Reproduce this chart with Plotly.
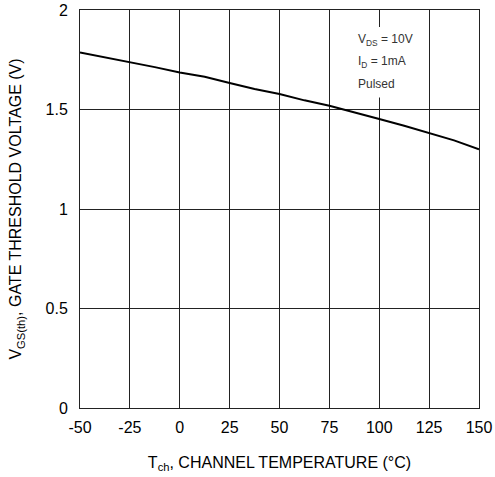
import plotly.graph_objects as go

temp_c = [-50, -37.5, -25, -12.5, 0, 12.5, 25, 37.5, 50, 62.5, 75, 87.5, 100, 112.5, 125, 137.5, 150]
vth_v = [1.787, 1.763, 1.740, 1.713, 1.686, 1.665, 1.633, 1.603, 1.578, 1.546, 1.519, 1.487, 1.452, 1.418, 1.381, 1.345, 1.300]

x_ticks = [-50, -25, 0, 25, 50, 75, 100, 125, 150]
x_tick_labels = ["-50", "-25", "0", "25", "50", "75", "100", "125", "150"]
y_ticks = [0, 0.5, 1, 1.5, 2]
y_tick_labels = ["0", "0.5", "1", "1.5", "2"]
cond_lines = ["V<sub>DS</sub> = 10V", "I<sub>D</sub> = 1mA", "Pulsed"]

fig = go.Figure()
fig.add_trace(go.Scatter(x=temp_c, y=vth_v, mode="lines",
                         line=dict(color="black", width=2), showlegend=False))

axis_common = dict(showline=True, mirror=True, linecolor="#222", linewidth=1,
                   showgrid=True, gridcolor="#222", gridwidth=1, zeroline=False,
                   automargin=False, ticks="",
                   tickfont=dict(size=16, color="black", family="Liberation Sans"))

fig.update_xaxes(range=[-50, 150], tickvals=x_ticks, ticktext=x_tick_labels, **axis_common,
                 ticklabelstandoff=5,
                 title=dict(text="T<sub>ch</sub>, CHANNEL TEMPERATURE (°C)",
                            font=dict(size=16, color="black", family="Liberation Sans"), standoff=21))
fig.update_yaxes(range=[0, 2], tickvals=y_ticks, ticktext=y_tick_labels, **axis_common,
                 ticklabelstandoff=8,
                 title=dict(text="V<sub>GS(th)</sub>, GATE THRESHOLD VOLTAGE (V)",
                            font=dict(size=16, color="black", family="Liberation Sans"), standoff=19))

fig.add_shape(type="rect", xref="x", yref="y", x0=86, x1=118, y0=1.56, y1=1.915,
              fillcolor="white", line=dict(width=0), layer="above")

for i, t in enumerate(cond_lines):
    fig.add_annotation(x=88.5, y=1.85 - i * 0.11, xref="x", yref="y", text=t, showarrow=False,
                       xanchor="left", yanchor="middle",
                       font=dict(size=12, color="#333", family="Liberation Sans"))

fig.update_layout(width=495, height=477, margin=dict(l=80, r=16, t=10, b=69),
                  plot_bgcolor="white", paper_bgcolor="white")

fig.write_html("out.html", config={"displayModeBar": False},
               post_script="document.body.style.margin='0';document.body.style.padding='0';")
